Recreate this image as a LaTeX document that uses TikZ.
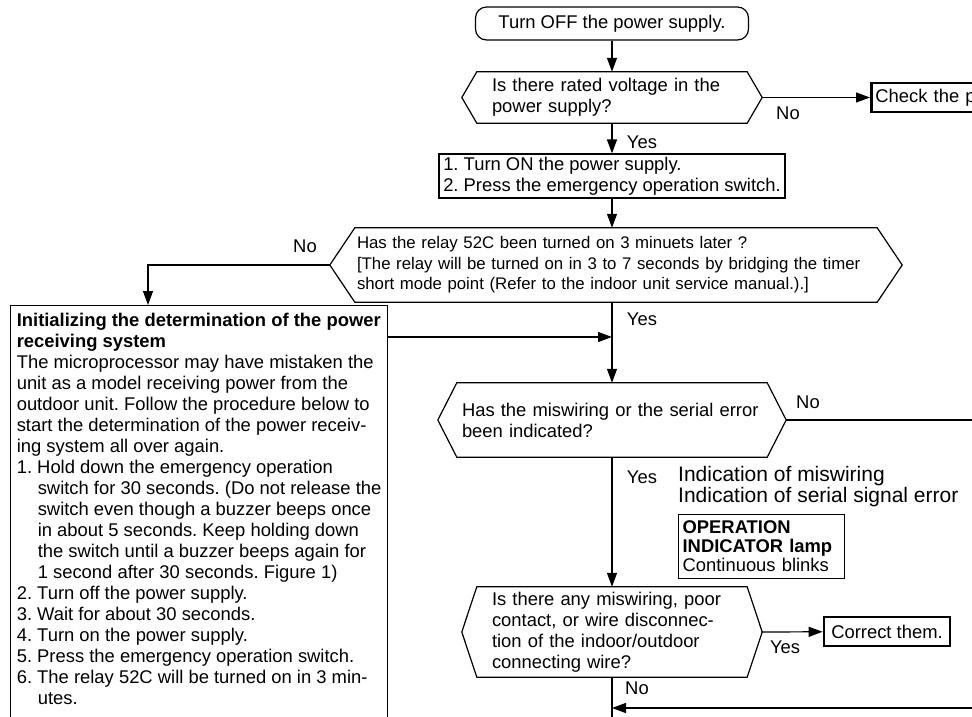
\documentclass[tikz,border=0pt]{standalone}
\usepackage{fontspec}
\setmainfont{Liberation Sans}
\frenchspacing
\usetikzlibrary{arrows.meta,calc}

% outline of a decision node: flat top and bottom, pointed ends
\newcommand{\hexframe}[2]{%
  \draw[line] (#1.north west) -- (#1.north east)
    -- ($(#1.east)+(#2,0)$) coordinate (#1-r)
    -- (#1.south east) -- (#1.south west)
    -- ($(#1.west)-(#2,0)$) coordinate (#1-l) -- cycle;}

\begin{document}
\begin{tikzpicture}[
  x=1pt, y=-1pt,
  font=\fontsize{18.4}{21}\selectfont,
  line/.style={line width=1.2pt},
  arr/.style={line, -{Triangle[length=14pt, width=10pt]}},
  term/.style={draw, line, rounded corners=11pt, minimum width=273pt, minimum height=33pt, inner sep=0pt},
  ask/.style={align=left, inner ysep=0pt},
  proc/.style={draw, line, align=left, inner sep=0pt},
  fix/.style={draw, line width=2.8pt, inner xsep=4pt, inner ysep=0pt, minimum height=29pt},
  lbl/.style={inner sep=0pt},
]
\useasboundingbox (0,0) rectangle (972,716);
\clip (0,0) rectangle (972,716);

\node[term] (start) at (612,23.5) {Turn OFF the power supply.};
\node[ask, minimum height=51pt, text width=240pt, inner xsep=15pt] (q1) at (612,97.5)
  {Is there rated voltage in the\\power supply?};
\node[fix, anchor=west, text width=140pt, align=left] (check) at (870,97.5) {Check the p};
\node[proc, minimum width=346pt, minimum height=44pt] (turnon) at (612,176)
  {1. Turn ON the power supply.\\2. Press the emergency operation switch.};
\node[ask, minimum height=74pt, text width=518pt, inner xsep=2pt, font=\fontsize{16.8}{20.5}\selectfont] (q2) at (616,265)
  {Has the relay 52C been turned on 3 minuets later ?\\{[}The relay will be turned on in 3 to 7 seconds by bridging the timer\\short mode point (Refer to the indoor unit service manual.).]};
\node[proc, anchor=north west, minimum width=377pt, inner ysep=8pt] (init) at (10,305)
  {\textbf{Initializing the determination of the power}\\
   \textbf{receiving system}\\
   The microprocessor may have mistaken the\\
   unit as a model receiving power from the\\
   outdoor unit. Follow the procedure below to\\
   start the determination of the power receiv-\\
   ing system all over again.\\
   1. Hold down the emergency operation\\
   \hspace*{21pt}switch for 30 seconds. (Do not release the\\
   \hspace*{21pt}switch even though a buzzer beeps once\\
   \hspace*{21pt}in about 5 seconds. Keep holding down\\
   \hspace*{21pt}the switch until a buzzer beeps again for\\
   \hspace*{21pt}1 second after 30 seconds. Figure 1)\\
   2. Turn off the power supply.\\
   3. Wait for about 30 seconds.\\
   4. Turn on the power supply.\\
   5. Press the emergency operation switch.\\
   6. The relay 52C will be turned on in 3 min-\\
   \hspace*{21pt}utes.\\
   \mbox{}\\
   \mbox{}};
\node[ask, minimum height=74pt, text width=300pt, inner xsep=5pt] (q3) at (612,420)
  {Has the miswiring or the serial error\\been indicated?};
\node[lbl, align=left, anchor=north west, font=\fontsize{21}{21}\selectfont] (sig) at (678,466)
  {Indication of miswiring\\Indication of serial signal error};
\node[proc, anchor=north west, minimum width=166pt, minimum height=64pt, text width=158pt, inner xsep=4pt, font=\fontsize{18.4}{19}\selectfont] (lamp) at (678,514)
  {\textbf{OPERATION}\\\textbf{INDICATOR lamp}\\Continuous blinks};
\node[ask, minimum height=90pt, text width=240pt, inner xsep=15pt] (q4) at (612,632)
  {Is there any miswiring, poor\\contact, or wire disconnec-\\tion of the indoor/outdoor\\connecting wire?};
\node[fix, minimum width=126pt] (correct) at (887,631.5) {Correct them.};

\hexframe{q1}{15}
\hexframe{q2}{25}
\hexframe{q3}{19}
\hexframe{q4}{15}

\node[lbl] (q1no) at (788,113) {No};
\node[lbl] (q1yes) at (642,142) {Yes};
\node[lbl] (q2no) at (305,246) {No};
\node[lbl] (q2yes) at (642,319) {Yes};
\node[lbl] (q3no) at (808,402) {No};
\node[lbl] (q3yes) at (642,477) {Yes};
\node[lbl] (q4yes) at (785,647) {Yes};
\node[lbl] (q4no) at (637,688) {No};

\coordinate (loop) at (1000,708);
\draw[arr] (start) -- (q1);
\draw[arr] (q1-r) -- (check);
\draw[arr] (q1) -- (turnon);
\draw[arr] (turnon) -- (turnon |- q2.north);
\draw[arr] (q2-l) -| ([xshift=138pt]init.north west);
\draw[arr] (q3.north |- q2.south) -- (q3);
\draw[arr] ([yshift=-32pt]init.north east) -- ([yshift=-32pt]init.north east -| q3.north);
\draw[arr] (q3) -- (q4);
\draw[line] (q3-r) -| (loop);
\draw[arr] (loop) -- (q4.south |- loop);
\draw[line] (q4.south) -- ++(0,60);
\draw[arr] (q4-r) -- (correct);
\end{tikzpicture}
\end{document}
